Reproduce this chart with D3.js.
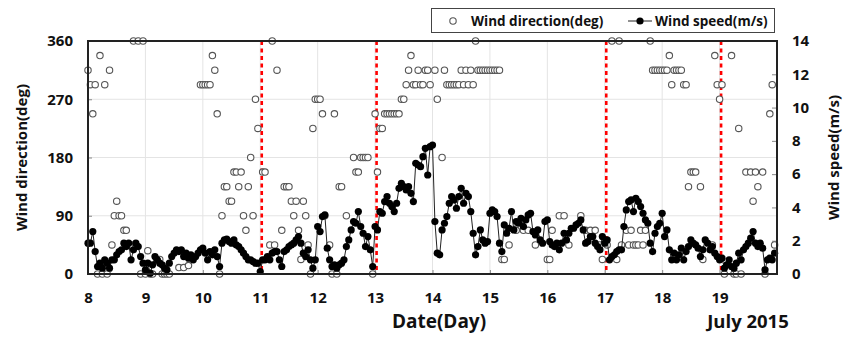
<!DOCTYPE html>
<html>
<head>
<meta charset="utf-8">
<script src="https://cdn.jsdelivr.net/npm/d3@7"></script>
<style>
  body { margin: 0; background: #fff; }
  text { font-family: "Open Sans", "Noto Sans", sans-serif; font-weight: bold; fill: #111; }
</style>
</head>
<body>
<svg id="chart" width="845" height="341"></svg>
<script>
// x axis: days of July 2015, hourly samples from day 8 00h
const dayTicks = [8, 9, 10, 11, 12, 13, 14, 15, 16, 17, 18, 19];
const dirTicks = [0, 90, 180, 270, 360];
const speedTicks = [0, 2, 4, 6, 8, 10, 12, 14];
const eventDays = [11, 13, 17, 19];

// wind speed (m/s), one value per hour, one row per day
const speed = [
  1.85,1.85,2.55,1.35,0.45,0.65,0.35,0.85,0.65,0.35,0.85,0.85,1.15,1.35,1.45,1.85,1.65,1.85,0.85,1.45,1.85,1.65,1.05,0.65,
  0.25,0.65,0.05,0.55,1.05,0.85,0.65,0.55,0.35,0.25,0.65,1.05,1.25,1.45,1.35,1.45,1.05,1.25,0.95,1.15,0.85,1.05,1.25,1.45,
  1.55,1.25,0.85,1.35,1.15,1.45,1.05,0.45,1.85,2.05,2.10,1.95,1.85,2.05,1.75,1.65,1.45,1.25,1.05,0.85,0.85,0.75,0.65,0.65,
  0.15,0.85,0.85,1.05,0.85,1.25,1.35,1.35,0.85,0.45,1.35,1.45,1.65,1.75,1.85,2.05,2.25,1.85,1.25,1.05,1.45,0.85,0.35,0.85,
  2.85,2.55,3.45,3.55,1.55,0.85,0.45,0.55,0.35,0.55,0.65,0.85,1.65,2.05,2.65,3.15,3.05,3.75,2.85,2.45,1.65,2.25,1.45,0.45,
  2.85,2.65,3.75,3.65,4.35,4.65,4.25,4.05,3.75,4.25,5.15,5.45,5.25,5.05,5.25,4.85,4.35,6.65,6.55,6.45,7.05,7.55,5.95,7.65,
  7.75,3.15,1.25,1.15,2.65,3.05,3.45,4.25,4.65,4.45,3.95,4.65,5.15,4.25,4.85,4.65,3.75,2.45,1.15,1.65,2.65,2.05,1.85,1.95,
  3.65,3.85,3.75,3.45,1.85,1.35,2.95,2.45,2.75,3.75,2.65,3.15,3.05,3.35,2.85,3.25,3.55,3.65,2.55,2.35,2.65,2.05,1.85,3.15,
  3.25,1.95,1.75,1.65,1.85,1.45,1.85,2.45,2.05,2.45,2.75,2.75,2.95,3.05,3.25,2.65,1.85,1.95,2.25,2.25,1.85,1.65,1.45,2.25,
  1.85,2.05,0.85,1.05,1.15,1.35,1.45,1.45,2.85,3.85,4.35,4.45,3.75,4.55,4.35,4.05,3.65,3.25,3.05,1.85,1.35,2.45,2.85,3.05,
  3.65,2.25,2.65,1.45,0.85,1.25,0.85,1.15,1.55,0.85,1.35,1.65,2.05,1.85,1.75,1.55,1.05,1.45,2.05,1.85,1.45,1.65,1.25,1.05,
  0.85,0.95,0.35,0.55,0.85,0.45,0.35,0.65,1.25,0.85,1.45,1.65,1.85,2.15,2.55,1.85,1.65,1.85,1.55,0.25,0.85,0.95,0.85,1.25
];

// wind direction (deg), one value per hour; null where no circle can be seen
const direction = [
  315,292.5,247.5,292.5,0,337.5,0,292.5,0,315,45,90,112.5,90,90,67.5,67.5,45,45,360,45,360,0,360,
  0,36,0,0,null,22.5,22.5,0,0,0,0,null,null,null,10,null,10,null,13,null,null,null,null,292.5,
  292.5,292.5,292.5,292.5,337.5,315,247.5,0,90,135,135,112.5,112.5,157.5,157.5,135,157.5,90,67.5,135,180,90,270,225,
  null,157.5,157.5,null,45,360,45,315,null,67.5,135,135,135,112.5,90,112.5,67.5,22.5,112.5,90,45,0,225,270,
  270,270,247.5,90,null,45,0,247.5,0,135,135,null,90,null,null,180,157.5,157.5,180,180,180,180,null,0,
  247.5,157.5,225,225,247.5,247.5,247.5,247.5,247.5,247.5,247.5,270,270,292.5,315,337.5,292.5,292.5,315,292.5,292.5,315,315,292.5,
  null,315,270,null,180,315,292.5,292.5,292.5,292.5,292.5,292.5,315,292.5,315,292.5,315,292.5,360,315,315,315,315,315,
  315,315,315,315,315,22.5,22.5,null,45,null,null,67.5,null,null,67.5,null,67.5,null,null,45,null,null,null,null,
  22.5,22.5,67.5,null,null,90,null,90,null,45,null,null,null,null,90,null,67.5,null,67.5,null,67.5,null,45,22.5,
  null,45,null,360,null,22.5,360,45,null,67.5,45,67.5,45,45,45,67.5,45,67.5,null,360,315,315,315,315,
  315,315,315,337.5,292.5,315,315,315,315,292.5,292.5,135,157.5,157.5,157.5,null,135,22.5,null,null,null,45,337.5,292.5,
  270,292.5,0,null,null,337.5,0,0,225,0,null,157.5,null,157.5,112.5,157.5,135,null,157.5,0,null,247.5,292.5,45
];

const margin = {left: 88, right: 68, top: 41, bottom: 67};
const width = 845, height = 341;

const svg = d3.select('#chart');

const x = d3.scaleLinear().domain([8, 20]).range([margin.left, width - margin.right]);
const yDir = d3.scaleLinear().domain([0, 360]).range([height - margin.bottom, margin.top]);
const ySpd = d3.scaleLinear().domain([0, 14]).range([height - margin.bottom, margin.top]);

const t = i => 8 + i / 24;

// faint grid
svg.append('g')
    .selectAll('line')
    .data(dayTicks.slice(1))
    .join('line')
    .attr('x1', d => x(d)).attr('x2', d => x(d))
    .attr('y1', yDir(0)).attr('y2', yDir(360))
    .attr('stroke', '#e4e4e4');

svg.append('g')
    .selectAll('line')
    .data([90, 180, 270])
    .join('line')
    .attr('x1', x(8)).attr('x2', x(20))
    .attr('y1', d => yDir(d)).attr('y2', d => yDir(d))
    .attr('stroke', '#e4e4e4');

// axes
const bottom = svg.append('g')
    .attr('transform', `translate(0,${yDir(0)})`)
    .call(d3.axisBottom(x).tickValues(dayTicks).tickSize(-4).tickPadding(18).tickFormat(d3.format('d')));

const left = svg.append('g')
    .attr('transform', `translate(${x(8)},0)`)
    .call(d3.axisLeft(yDir).tickValues(dirTicks).tickSize(-4).tickPadding(15));

const right = svg.append('g')
    .attr('transform', `translate(${x(20)},0)`)
    .call(d3.axisRight(ySpd).tickValues(speedTicks).tickSize(-5).tickPadding(15));

[bottom, left, right].forEach(g => {
  g.select('.domain').remove();
  g.selectAll('.tick line').attr('stroke', '#888');
  g.selectAll('.tick text').style('font-size', '15px').attr('fill', '#111');
});

// event markers
svg.append('g')
    .selectAll('line')
    .data(eventDays)
    .join('line')
    .attr('x1', d => x(d) + 1.5).attr('x2', d => x(d) + 1.5)
    .attr('y1', yDir(360)).attr('y2', yDir(0))
    .attr('stroke', '#f00')
    .attr('stroke-width', 2.6)
    .attr('stroke-dasharray', '4,3.5');

// wind direction circles
svg.append('g')
    .selectAll('circle')
    .data(direction.map((d, i) => ({t: t(i), v: d})).filter(d => d.v !== null))
    .join('circle')
    .attr('cx', d => x(d.t))
    .attr('cy', d => yDir(d.v))
    .attr('r', 3.2)
    .attr('fill', '#fff')
    .attr('stroke', '#555')
    .attr('stroke-width', 1.1);

// wind speed line + dots
const spd = speed.map((d, i) => ({t: t(i), v: d}));

svg.append('path')
    .datum(spd)
    .attr('d', d3.line().x(d => x(d.t)).y(d => ySpd(d.v)))
    .attr('fill', 'none')
    .attr('stroke', '#222')
    .attr('stroke-width', 1);

svg.append('g')
    .selectAll('circle')
    .data(spd)
    .join('circle')
    .attr('cx', d => x(d.t))
    .attr('cy', d => ySpd(d.v))
    .attr('r', 3.6)
    .attr('fill', '#000');

// frame
svg.append('rect')
    .attr('x', x(8)).attr('y', yDir(360))
    .attr('width', x(20) - x(8)).attr('height', yDir(0) - yDir(360))
    .attr('fill', 'none')
    .attr('stroke', '#222')
    .attr('stroke-width', 2);

// titles
svg.append('text')
    .attr('transform', `translate(27,${(yDir(0) + yDir(360)) / 2}) rotate(-90)`)
    .attr('text-anchor', 'middle')
    .style('font-size', '15px')
    .text('Wind direction(deg)');

svg.append('text')
    .attr('transform', `translate(839,${(yDir(0) + yDir(360)) / 2}) rotate(-90)`)
    .attr('text-anchor', 'middle')
    .style('font-size', '15px')
    .text('Wind speed(m/s)');

svg.append('text')
    .attr('x', 439).attr('y', 328)
    .attr('text-anchor', 'middle')
    .style('font-size', '19px')
    .text('Date(Day)');

svg.append('text')
    .attr('x', 748).attr('y', 328)
    .attr('text-anchor', 'middle')
    .style('font-size', '18.5px')
    .text('July 2015');

// legend
const legend = svg.append('g');
legend.append('rect')
    .attr('x', 431.5).attr('y', 8.5).attr('width', 343).attr('height', 24)
    .attr('fill', '#fff').attr('stroke', '#444');
legend.append('circle')
    .attr('cx', 453).attr('cy', 21).attr('r', 3.2)
    .attr('fill', '#fff').attr('stroke', '#555').attr('stroke-width', 1.1);
legend.append('text')
    .attr('x', 471).attr('y', 26)
    .style('font-size', '13.5px')
    .text('Wind direction(deg)');
legend.append('line')
    .attr('x1', 628).attr('x2', 652).attr('y1', 21).attr('y2', 21)
    .attr('stroke', '#222');
legend.append('circle')
    .attr('cx', 640).attr('cy', 21).attr('r', 3.6).attr('fill', '#000');
legend.append('text')
    .attr('x', 655).attr('y', 26)
    .style('font-size', '13.5px')
    .text('Wind speed(m/s)');
</script>
</body>
</html>
